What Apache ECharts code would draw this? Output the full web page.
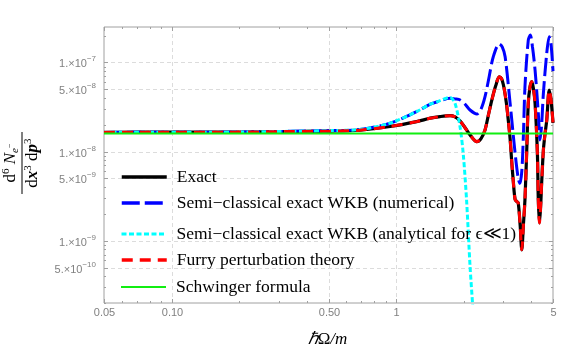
<!DOCTYPE html>
<html>
<head>
<meta charset="utf-8">
<script src="https://cdn.jsdelivr.net/npm/echarts@6/dist/echarts.min.js"></script>
<style>
  html, body { margin: 0; padding: 0; background: #fff; }
  #main { width: 581px; height: 351px; }
</style>
</head>
<body>
<div id="main"></div>
<script>
// values (x = hbar*Omega/m, y = d6N/dx3dp3)
var exactX = [0.05, 0.07, 0.1, 0.15, 0.2235, 0.337, 0.508, 0.69, 0.94, 1.235, 1.42, 1.57, 1.74, 1.83, 1.93, 2.03, 2.135, 2.29, 2.39, 2.49, 2.58, 2.67, 2.78, 2.88, 2.95, 3.02, 3.1, 3.16, 3.22, 3.27, 3.33, 3.39, 3.45, 3.5, 3.57, 3.63, 3.69, 3.75, 3.82, 3.88, 3.95, 4.02, 4.09, 4.16, 4.26, 4.3, 4.35, 4.4, 4.45, 4.53, 4.61, 4.69, 4.81, 4.9, 5.0]
var exactY = [1.64e-8, 1.65e-8, 1.65e-8, 1.65e-8, 1.66e-8, 1.68e-8, 1.70e-8, 1.74e-8, 1.91e-8, 2.17e-8, 2.37e-8, 2.47e-8, 2.53e-8, 2.45e-8, 2.2e-8, 1.85e-8, 1.54e-8, 1.29e-8, 1.4e-8, 1.75e-8, 2.6e-8, 3.79e-8, 5.5e-8, 6.9e-8, 6.6e-8, 5.3e-8, 3.5e-8, 2.26e-8, 1.4e-8, 8.07e-9, 4.5e-9, 2.9e-9, 2.75e-9, 2.66e-9, 1.5e-9, 7.9e-10, 1.5e-9, 2.88e-9, 1.04e-8, 3.5e-8, 5.3e-8, 6.1e-8, 5.1e-8, 3.5e-8, 9.6e-9, 2.88e-9, 1.58e-9, 2.3e-9, 4.4e-9, 1.04e-8, 1.6e-8, 2.26e-8, 4.9e-8, 3.8e-8, 2.1e-8]

var wkbNumX = [0.05, 0.07, 0.1, 0.15, 0.2235, 0.337, 0.508, 0.69, 0.94, 1.235, 1.42, 1.53, 1.74, 1.83, 1.93, 2.03, 2.135, 2.29, 2.39, 2.49, 2.6, 2.71, 2.88, 2.97, 3.06, 3.22, 3.39, 3.5, 3.56, 3.63, 3.69, 3.75, 3.88, 3.96, 4.05, 4.16, 4.3, 4.38, 4.45, 4.53, 4.69, 4.81, 4.9, 5.0]
var wkbNumY = [1.64e-8, 1.65e-8, 1.65e-8, 1.65e-8, 1.66e-8, 1.69e-8, 1.72e-8, 1.77e-8, 2.08e-8, 2.81e-8, 3.4e-8, 3.63e-8, 3.96e-8, 3.9e-8, 3.79e-8, 3.4e-8, 2.93e-8, 2.64e-8, 3.0e-8, 4.13e-8, 7.0e-8, 1.16e-7, 1.61e-7, 1.5e-7, 1.16e-7, 3.5e-8, 9.6e-9, 5.0e-9, 4.4e-9, 6.0e-9, 1.5e-8, 5.3e-8, 1.78e-7, 2.03e-7, 1.5e-7, 8.2e-8, 2.71e-8, 1.35e-8, 2.0e-8, 4.5e-8, 1.27e-7, 1.94e-7, 1.6e-7, 8.0e-8]

var wkbAnaX = [0.05, 0.07, 0.1, 0.15, 0.2235, 0.337, 0.508, 0.69, 0.94, 1.235, 1.42, 1.53, 1.74, 1.83, 1.926, 1.99, 2.06, 2.135, 2.19, 2.25]
var wkbAnaY = [1.64e-8, 1.65e-8, 1.65e-8, 1.65e-8, 1.66e-8, 1.69e-8, 1.72e-8, 1.77e-8, 2.08e-8, 2.81e-8, 3.4e-8, 3.63e-8, 4.05e-8, 3.48e-8, 1.91e-8, 9.6e-9, 2.88e-9, 5.2e-10, 2.0e-10, 7e-11]

var schwingerX = [0.05, 5]
var schwingerY = [1.6e-8, 1.6e-8]

var seriesNames = ['Exact', 'Semi\u2212classical exact WKB (numerical)', 'Semi\u2212classical exact WKB (analytical for \u03f5\u226a1)', 'Furry perturbation theory', 'Schwinger formula']

var xTicks = [0.05, 0.1, 0.5, 1, 5]
var xTickLabels = ['0.05', '0.10', '0.50', '1', '5']
var yTicks = [1e-7, 5e-8, 1e-8, 5e-9, 1e-9, 5e-10]
var yTickMant = ['1.', '5.', '1.', '5.', '1.', '5.']
var yTickExp = ['\u22127', '\u22128', '\u22128', '\u22129', '\u22129', '\u221210']

var X_MIN = 0.05, X_MAX = 5, Y_MIN = 2e-10, Y_MAX = 2.5e-7

function pairs(xs, ys) {
  return xs.map(function (x, i) { return [x, ys[i]] })
}

var chart = echarts.init(document.getElementById('main'), null, { renderer: 'canvas' })

var serif = 'Liberation Serif, Times New Roman, serif'
var sans = 'Liberation Sans, Arial, sans-serif'

function lineSeries(name, xs, ys, color, width, dash) {
  return {
    name: name,
    type: 'line',
    data: pairs(xs, ys),
    symbol: 'none',
    smooth: 0.3,
    itemStyle: { color: color },
    lineStyle: { color: color, width: width, type: dash || 'solid' }
  }
}

// legend rows are positioned one by one, the gaps are not even in the original
var legendCenters = [177, 203, 234, 260, 287]
var legendLineWidths = [3.5, 3.5, 3, 3.5, 2]
var legends = seriesNames.map(function (name, i) {
  return {
    data: [name],
    left: 120,
    top: legendCenters[i] - 10,
    padding: 0,
    itemWidth: 45,
    itemHeight: 20,
    itemStyle: { opacity: 0 },
    lineStyle: { width: legendLineWidths[i] },
    textStyle: { fontFamily: serif, fontSize: 17.5, color: '#000', lineHeight: 20, padding: [0, 0, 0, 5] },
    selectedMode: false
  }
})

chart.setOption({
  animation: false,
  grid: { left: 104, right: 28, top: 27, bottom: 48, show: true, borderColor: '#a0a0a0', borderWidth: 1, backgroundColor: 'transparent' },
  legend: legends,
  xAxis: {
    type: 'log', min: X_MIN, max: X_MAX,
    axisLine: { show: false }, axisTick: { show: false }, axisLabel: { show: false }, splitLine: { show: false }
  },
  yAxis: {
    type: 'log', min: Y_MIN, max: Y_MAX,
    axisLine: { show: false }, axisTick: { show: false }, axisLabel: { show: false }, splitLine: { show: false }
  },
  series: [
    lineSeries(seriesNames[0], exactX, exactY, '#000000', 3.2),
    lineSeries(seriesNames[1], wkbNumX, wkbNumY, '#0000ff', 3, [18, 5]),
    lineSeries(seriesNames[2], wkbAnaX, wkbAnaY, '#00ffff', 3, [5, 2.5]),
    lineSeries(seriesNames[3], exactX, exactY, '#ff0000', 3, [11, 7]),
    lineSeries(seriesNames[4], schwingerX, schwingerY, '#11ee11', 2)
  ]
})

// gridlines, ticks and tick labels placed through the axes
function px(v) { return chart.convertToPixel({ xAxisIndex: 0 }, v) }
function py(v) { return chart.convertToPixel({ yAxisIndex: 0 }, v) }

var gLeft = px(X_MIN), gRight = px(X_MAX), gTop = py(Y_MAX), gBottom = py(Y_MIN)
var g = []
function gridStyle() { return { stroke: '#dcdcdc', lineWidth: 1, lineDash: [4, 3] } }
function tickStyle() { return { stroke: '#a0a0a0', lineWidth: 1 } }

xTicks.forEach(function (v, i) {
  var x = Math.round(px(v)) + 0.5
  if (v > X_MIN && v < X_MAX) {
    g.push({ type: 'line', silent: true, z: -1, shape: { x1: x, y1: gTop, x2: x, y2: gBottom }, style: gridStyle() })
  }
  g.push({ type: 'text', silent: true, x: x, y: gBottom + 10,
    style: { text: xTickLabels[i], align: 'center', verticalAlign: 'middle', fill: '#808080', font: '11px ' + sans } })
})

yTicks.forEach(function (v, i) {
  var y = Math.round(py(v)) + 0.5
  g.push({ type: 'line', silent: true, z: -1, shape: { x1: gLeft, y1: y, x2: gRight, y2: y }, style: gridStyle() })
  g.push({ type: 'text', silent: true, x: gLeft - 8, y: y + 1,
    style: {
      text: '{m|' + yTickMant[i] + '\u00d710}{e|' + yTickExp[i] + '}',
      align: 'right', verticalAlign: 'middle',
      rich: {
        m: { fontFamily: sans, fontSize: 11, fill: '#808080' },
        e: { fontFamily: sans, fontSize: 8, fill: '#808080', padding: [0, 0, 9, 0] }
      }
    } })
})

// major and minor ticks on all four sides
for (var ex = -2; ex <= 0; ex++) {
  for (var k = 1; k <= 9; k++) {
    var v = k * Math.pow(10, ex)
    if (v < X_MIN - 1e-9 || v > X_MAX + 1e-9) continue
    var major = xTicks.some(function (t) { return Math.abs(t - v) < 1e-9 })
    var len = major ? 4 : 2
    var tx = Math.round(px(v)) + 0.5
    g.push({ type: 'line', silent: true, shape: { x1: tx, y1: gBottom, x2: tx, y2: gBottom - len }, style: tickStyle() })
    g.push({ type: 'line', silent: true, shape: { x1: tx, y1: gTop, x2: tx, y2: gTop + len }, style: tickStyle() })
  }
}
for (var ey = -10; ey <= -7; ey++) {
  for (var k2 = 1; k2 <= 9; k2++) {
    var w = k2 * Math.pow(10, ey)
    if (w < Y_MIN || w > Y_MAX) continue
    var lenY = (k2 === 1 || k2 === 5) ? 4 : 2
    var ty = Math.round(py(w)) + 0.5
    g.push({ type: 'line', silent: true, shape: { x1: gLeft, y1: ty, x2: gLeft + lenY, y2: ty }, style: tickStyle() })
    g.push({ type: 'line', silent: true, shape: { x1: gRight, y1: ty, x2: gRight - lenY, y2: ty }, style: tickStyle() })
  }
}

// axis titles
g.push({ type: 'text', silent: true, x: (gLeft + gRight) / 2 - 1, y: 340,
  style: {
    text: '{i|\u210f}{r|\u03a9}{i|/m}', align: 'center', verticalAlign: 'middle',
    rich: {
      i: { fontFamily: serif, fontSize: 17, fontStyle: 'italic', fill: '#000' },
      r: { fontFamily: serif, fontSize: 17, fill: '#000' }
    }
  } })

function fracRich() {
  return {
    r: { fontFamily: serif, fontSize: 17, fill: '#000' },
    i: { fontFamily: serif, fontSize: 17, fontStyle: 'italic', fill: '#000' },
    bi: { fontFamily: serif, fontSize: 17, fontStyle: 'italic', fontWeight: 'bold', fill: '#000' },
    sup: { fontFamily: serif, fontSize: 11, fill: '#000', padding: [0, 0, 10, 0] },
    sub: { fontFamily: serif, fontSize: 11, fontStyle: 'italic', fill: '#000', padding: [8, 0, 0, 0] },
    subsup: { fontFamily: serif, fontSize: 8, fill: '#000', padding: [0, 0, 2, 0] }
  }
}
g.push({
  type: 'group', x: 22, y: 163, rotation: Math.PI / 2, silent: true,
  children: [
    { type: 'text', x: 0, y: -11, style: { text: '{r|d}{sup|6}{r| }{i|N}{sub|e}{subsup|\u2212}', align: 'center', verticalAlign: 'middle', rich: fracRich() } },
    { type: 'line', shape: { x1: -31, y1: 0, x2: 31, y2: 0 }, style: { stroke: '#000', lineWidth: 1 } },
    { type: 'text', x: 0, y: 11, style: { text: '{r|d}{bi|x}{sup|3}{r| d}{bi|p}{sup|3}', align: 'center', verticalAlign: 'middle', rich: fracRich() } }
  ]
})

chart.setOption({ graphic: g })
</script>
</body>
</html>
